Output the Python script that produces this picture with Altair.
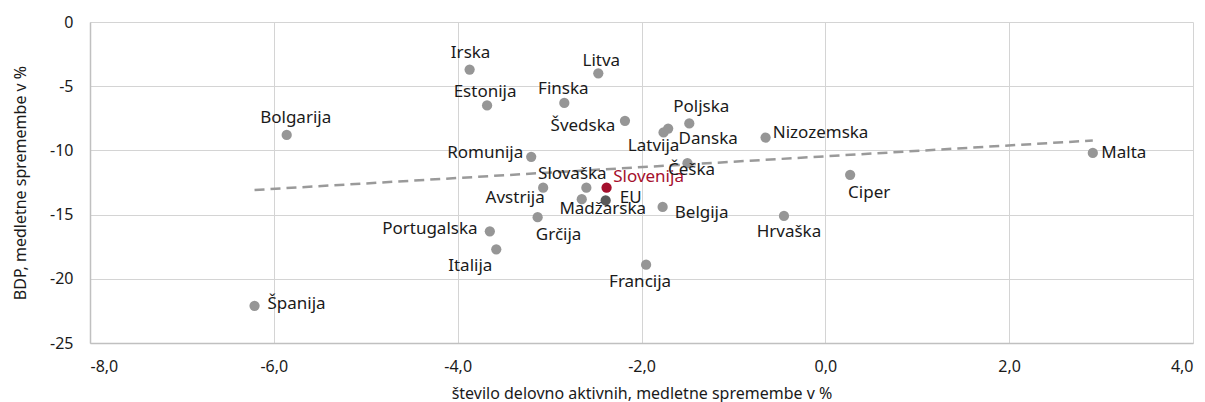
import altair as alt
import pandas as pd

names = ["Irska", "Litva", "Estonija", "Finska", "Bolgarija", "Švedska", "Romunija",
         "Slovaška", "Slovenija", "Avstrija", "EU", "Madžarska", "Grčija", "Portugalska",
         "Italija", "Francija", "Belgija", "Poljska", "Danska", "Latvija", "Češka",
         "Nizozemska", "Ciper", "Hrvaška", "Malta", "Španija"]
employment = [-3.87, -2.47, -3.68, -2.84, -5.86, -2.18, -3.20,
              -2.60, -2.38, -3.07, -2.39, -2.65, -3.13, -3.65,
              -3.58, -1.95, -1.77, -1.48, -1.71, -1.76, -1.50,
              -0.65, 0.27, -0.45, 2.91, -6.21]
gdp = [-3.7, -4.0, -6.5, -6.3, -8.8, -7.7, -10.5,
       -12.9, -12.9, -12.9, -13.9, -13.8, -15.2, -16.3,
       -17.7, -18.9, -14.4, -7.9, -8.3, -8.6, -11.0,
       -9.0, -11.9, -15.1, -10.2, -22.1]
group = ["country"] * 26
group[names.index("Slovenija")] = "si"
group[names.index("EU")] = "eu"

# label placement (pixel offset of label centre from its point) - style only
label_dx = [1, 3, -2, -1, 9, -42, -46, -14, 42, -28, 25, 21, 21, -60,
            -26, -6, 39, 12, 40, -10, 4, 55, 19, 5, 31, 42]
label_dy = [-17, -12, -13, -14, -17, 5, -4, -14, -11, 10, -2, 10, 18, -2,
            17, 17, 6, -16, 10, 14, 7, -5, 18, 16, 0, -2]

W, H = 1103, 321
XMIN, XMAX, YMIN, YMAX = -8, 4, -25, 0

df = pd.DataFrame({"name": names, "x": employment, "y": gdp, "group": group,
                   "dx": label_dx, "dy": label_dy})

FONT = "Noto Sans"
xs = alt.Scale(domain=[XMIN, XMAX], nice=False, zero=False)
ys = alt.Scale(domain=[YMIN, YMAX], nice=False, zero=False)

base = alt.Chart(df)

trend = base.transform_filter("datum.group != 'eu'").transform_regression(
    "x", "y").mark_line(color="#9a9a9a", strokeWidth=2.5, strokeDash=[10, 6]).encode(
    x=alt.X("x:Q", scale=xs), y=alt.Y("y:Q", scale=ys))

points = base.mark_circle(size=105, opacity=1).encode(
    x=alt.X("x:Q", scale=xs,
            axis=alt.Axis(values=[-8, -6, -4, -2, 0, 2, 4], ticks=False, labelPadding=15,
                          labelExpr="replace(replace(format(datum.value, '.1f'), '.', ','), '−', '-')",
                          title="število delovno aktivnih, medletne spremembe v %",
                          titlePadding=11)),
    y=alt.Y("y:Q", scale=ys,
            axis=alt.Axis(values=[0, -5, -10, -15, -20, -25], ticks=False, labelPadding=17,
                          labelExpr="'' + datum.value",
                          title="BDP, medletne spremembe v %", titlePadding=21)),
    color=alt.Color("group:N", scale=alt.Scale(domain=["country", "si", "eu"],
                                                range=["#969696", "#a50f2d", "#595959"]),
                    legend=None),
)

labels = base.transform_calculate(
    lx=f"datum.x + datum.dx * {XMAX - XMIN} / {W}",
    ly=f"datum.y - datum.dy * {YMAX - YMIN} / {H}",
).mark_text(fontSize=17, font=FONT, align="center", baseline="middle").encode(
    x=alt.X("lx:Q", scale=xs),
    y=alt.Y("ly:Q", scale=ys),
    text="name:N",
    color=alt.Color("group:N", scale=alt.Scale(domain=["country", "si", "eu"],
                                                range=["#1a1a1a", "#a50f2d", "#1a1a1a"]),
                    legend=None),
)

chart = alt.layer(trend, points, labels).resolve_scale(color="independent").properties(
    width=W, height=H,
    autosize=alt.AutoSizeParams(type="none"),
    padding={"left": 82, "top": 14, "right": 4, "bottom": 70},
).configure_view(strokeWidth=0).configure_axis(
    gridColor="#d4d4d4", domainColor="#c0c0c0", domainWidth=1.5,
    labelFont=FONT, titleFont=FONT, labelFontSize=16, titleFontSize=16,
    labelColor="#1a1a1a", titleColor="#1a1a1a", titleFontWeight="normal",
)

chart.save("out.html", embed_options={"renderer": "svg", "actions": False})
